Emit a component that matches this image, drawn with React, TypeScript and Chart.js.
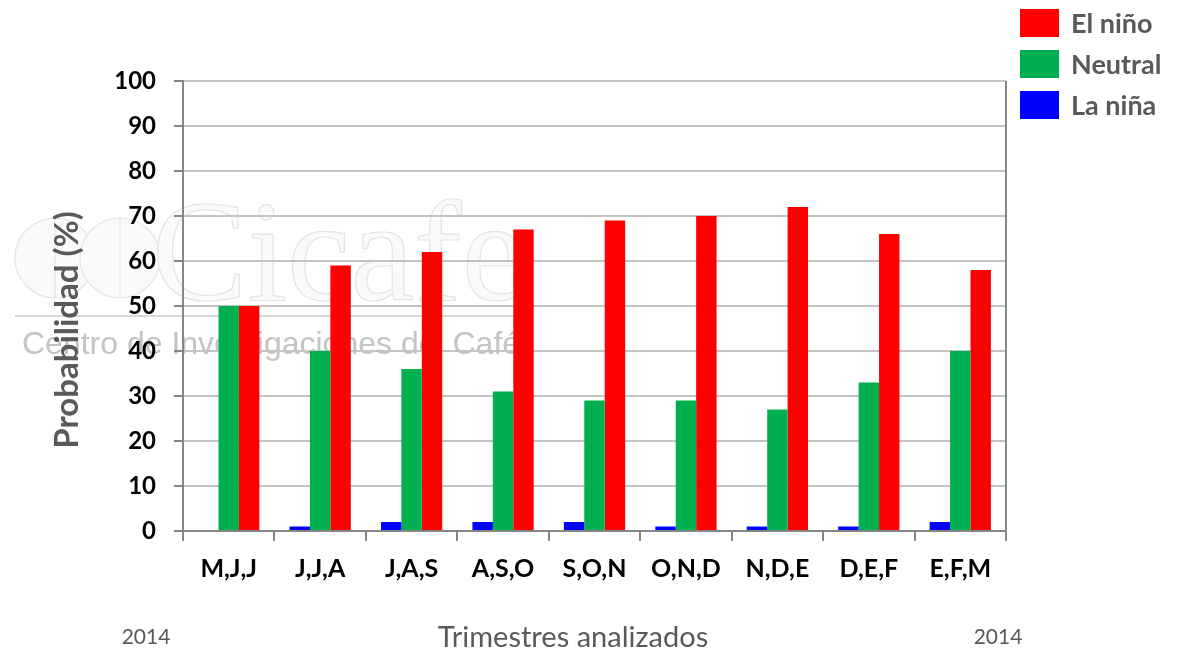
import React, { useEffect, useRef } from "react";
import { Chart, registerables } from "chart.js";

Chart.register(...registerables);

const categories = ["M,J,J", "J,J,A", "J,A,S", "A,S,O", "S,O,N", "O,N,D", "N,D,E", "D,E,F", "E,F,M"];
const laNina = [0, 1, 2, 2, 2, 1, 1, 1, 2];
const neutral = [50, 40, 36, 31, 29, 29, 27, 33, 40];
const elNino = [50, 59, 62, 67, 69, 70, 72, 66, 58];
const yTicks = [0, 10, 20, 30, 40, 50, 60, 70, 80, 90, 100];

const legendItems = [
  { label: "El niño", color: "#ff0000" },
  { label: "Neutral", color: "#00b050" },
  { label: "La niña", color: "#0000ff" },
];

const FONT = "Lato, 'Open Sans', sans-serif";
const GRAY_TEXT = "#595959";
const AXIS = "#868686";

const decor = {
  id: "decor",
  beforeDraw(chart: any) {
    const ctx = chart.ctx;
    ctx.save();
    ctx.fillStyle = "#ffffff";
    ctx.fillRect(0, 0, chart.width, chart.height);
    // watermark logo
    ctx.strokeStyle = "#e4e4e4";
    ctx.lineWidth = 1.2;
    ctx.fillStyle = "#fafafa";
    ctx.beginPath();
    ctx.arc(55, 258, 40, 0, Math.PI * 2);
    ctx.fill();
    ctx.stroke();
    ctx.beginPath();
    ctx.arc(120, 258, 40, 0, Math.PI * 2);
    ctx.fill();
    ctx.stroke();
    ctx.beginPath();
    ctx.moveTo(55, 218);
    ctx.lineTo(55, 298);
    ctx.moveTo(120, 218);
    ctx.lineTo(120, 298);
    ctx.stroke();
    ctx.font = "143px 'Liberation Serif', serif";
    ctx.textAlign = "left";
    ctx.textBaseline = "alphabetic";
    ctx.fillText("Cicafe", 152, 300);
    ctx.strokeText("Cicafe", 152, 300);
    ctx.strokeStyle = "#d8d8d8";
    ctx.lineWidth = 2;
    ctx.beginPath();
    ctx.moveTo(15, 316);
    ctx.lineTo(515, 316);
    ctx.stroke();
    ctx.fillStyle = "#c4c4c4";
    ctx.font = "32px 'Liberation Sans', sans-serif";
    ctx.fillText("Centro de Investigaciones del Café", 22, 354);
    ctx.restore();
  },
  afterDraw(chart: any) {
    const ctx = chart.ctx;
    const a = chart.chartArea;
    ctx.save();
    // right border
    ctx.strokeStyle = AXIS;
    ctx.lineWidth = 2;
    ctx.beginPath();
    ctx.moveTo(a.right, a.top);
    ctx.lineTo(a.right, a.bottom + 10);
    ctx.stroke();
    // legend
    ctx.textAlign = "left";
    ctx.textBaseline = "middle";
    ctx.font = `bold 27px ${FONT}`;
    legendItems.forEach((it, i) => {
      const cy = 23 + i * 41;
      ctx.fillStyle = it.color;
      ctx.fillRect(1020, cy - 14, 39, 28);
      ctx.fillStyle = GRAY_TEXT;
      ctx.fillText(it.label, 1071, cy + 1);
    });
    // y title
    ctx.save();
    ctx.translate(67, 330);
    ctx.rotate(-Math.PI / 2);
    ctx.textAlign = "center";
    ctx.textBaseline = "middle";
    ctx.font = `bold 33px ${FONT}`;
    ctx.fillStyle = GRAY_TEXT;
    ctx.fillText("Probabilidad (%)", 0, 0);
    ctx.restore();
    // x title
    ctx.textAlign = "center";
    ctx.textBaseline = "middle";
    ctx.fillStyle = GRAY_TEXT;
    ctx.font = `29px ${FONT}`;
    ctx.fillText("Trimestres analizados", 573, 638);
    ctx.font = `21px ${FONT}`;
    ctx.fillText("2014", 146, 637);
    ctx.fillText("2014", 998, 637);
    ctx.restore();
  },
};

export default function App() {
  const ref = useRef<HTMLCanvasElement | null>(null);
  useEffect(() => {
    if (!ref.current) return;
    const chart = new Chart(ref.current, {
      type: "bar",
      data: {
        labels: categories,
        datasets: [
          { label: "La niña", data: laNina, backgroundColor: "#0000ff" },
          { label: "Neutral", data: neutral, backgroundColor: "#00b050" },
          { label: "El niño", data: elNino, backgroundColor: "#ff0000" },
        ],
      },
      options: {
        responsive: false,
        animation: false,
        devicePixelRatio: 1,
        layout: { padding: { left: 0, right: 179, top: 81, bottom: 0 } },
        datasets: { bar: { categoryPercentage: 0.67, barPercentage: 1.0 } },
        plugins: { legend: { display: false }, tooltip: { enabled: false }, title: { display: false } },
        scales: {
          x: {
            afterFit: (s: any) => {
              s.height = 122;
            },
            grid: { drawOnChartArea: false, drawTicks: true, tickLength: 10, color: AXIS, lineWidth: 2, offset: true },
            border: { color: AXIS, width: 2 },
            ticks: { color: "#000", font: { family: FONT, size: 25, weight: "bold" }, padding: 13, maxRotation: 0 },
          },
          y: {
            min: 0,
            max: 100,
            afterFit: (s: any) => {
              s.width = 183;
            },
            afterBuildTicks: (s: any) => {
              s.ticks = yTicks.map((v) => ({ value: v }));
            },
            grid: { color: "#c4c4c4", lineWidth: 2, tickLength: 9, tickColor: AXIS, tickWidth: 2 },
            border: { color: AXIS, width: 2 },
            ticks: { color: "#000", font: { family: FONT, size: 24, weight: "bold" }, padding: 18 },
          },
        },
      },
      plugins: [decor],
    } as any);
    return () => chart.destroy();
  }, []);
  return (
    <div style={{ position: "absolute", left: 0, top: 0, width: 1185, height: 653 }}>
      <canvas ref={ref} width={1185} height={653} style={{ width: 1185, height: 653 }} />
    </div>
  );
}
